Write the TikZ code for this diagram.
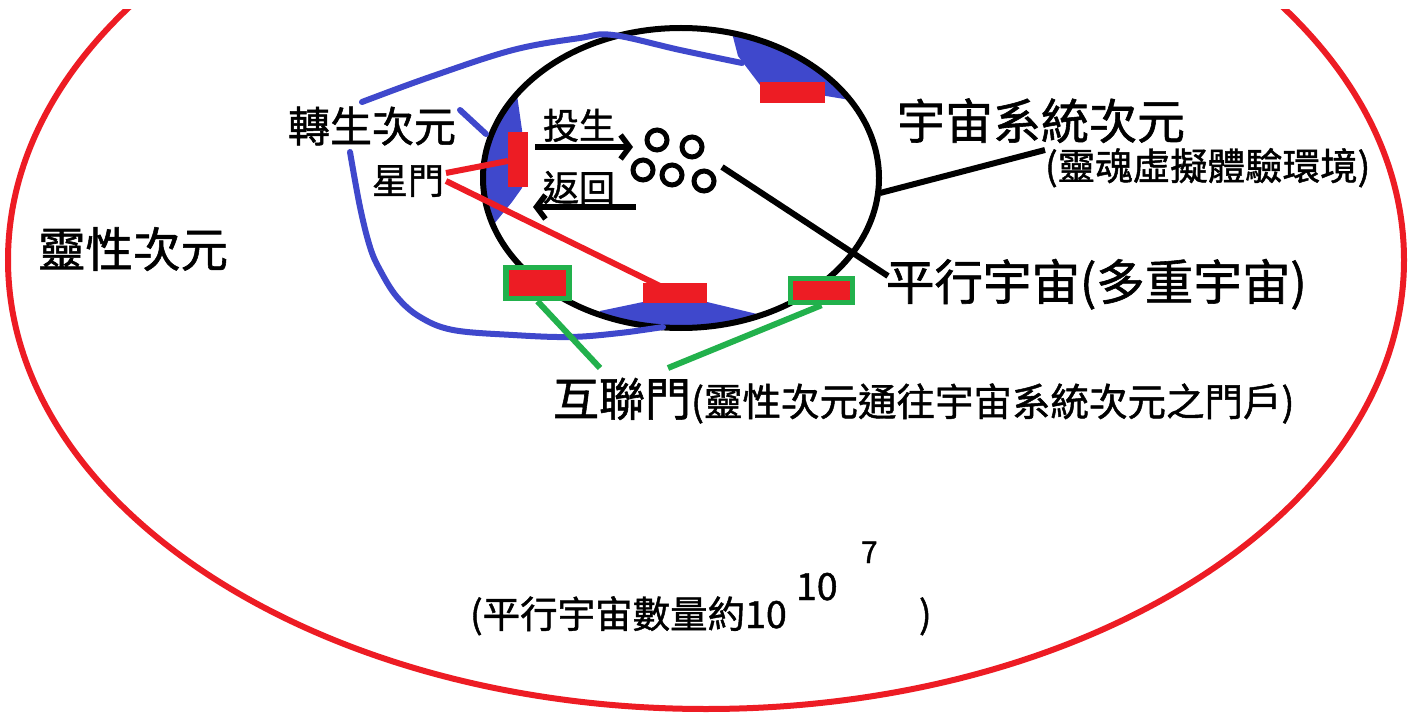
\documentclass[tikz,border=0pt]{standalone}
\usepackage{fontspec}
\setmainfont{Noto Sans CJK TC}[FakeBold=1.2]
\usetikzlibrary{arrows.meta,shapes.geometric}
\definecolor{pred}{HTML}{ED1C24}
\definecolor{pblue}{HTML}{3F48CC}
\definecolor{pgreen}{HTML}{22B14C}
\tikzset{
  lbl/.style={inner sep=0pt, outer sep=0pt, anchor=base west, text=black},
  fs/.style={font=\fontsize{#1}{#1}\selectfont},
  redline/.style={draw=pred, line width=6pt},
  blueline/.style={draw=pblue, line width=6pt, line cap=round},
  blackline/.style={draw=black, line width=6pt},
  greenline/.style={draw=pgreen, line width=6pt},
  gatebox/.style={fill=pred},
  greenbox/.style={draw=pgreen, line width=5.5pt, fill=pred},
  uni/.style={draw=black, line width=5pt, circle, inner sep=0pt, minimum size=20pt},
  arr/.style={draw=black, line width=6pt, -{Straight Barb[length=9pt,width=24pt,line width=5.5pt]}},
}
\begin{document}
\begin{tikzpicture}[x=1pt,y=-1pt]
\useasboundingbox (0,0) rectangle (1411,714);
\fill[white] (0,0) rectangle (1411,714);
% spiritual dimension (red)
\begin{scope}
\clip (0,10) rectangle (1411,714);
\draw[pred, line width=6pt] (706,260) ellipse [x radius=698, y radius=449];
\end{scope}
% blue filled zones inside the universe ellipse
\begin{scope}
\clip (681,178) ellipse [x radius=198, y radius=150];
\fill[pblue] (726,10) -- (738,56) -- (760,85) -- (850,100) -- (900,0) -- cycle;
\fill[pblue] (440,60) -- (517,95) -- (522,130) -- (522,188) -- (512,202) -- (494,224) -- (440,232) -- cycle;
\fill[pblue] (600,311) -- (643,302) -- (707,302) -- (757,314) -- (760,345) -- (600,345) -- cycle;
\end{scope}
% universe system dimension (black ellipse)
\node[draw=black, line width=6pt, ellipse, minimum width=396pt, minimum height=300pt, inner sep=0pt] (univ) at (681,178) {};
% blue curves (reincarnation dimension)
\draw[blueline] plot[smooth, tension=0.6] coordinates {(362,102) (430,77) (513,50) (580,38) (613,35) (680,50) (742,63)};
\draw[blueline] plot[smooth, tension=0.6] coordinates {(350,152) (360,207) (370,247) (380,270) (397,297) (420,317) (453,330) (513,335) (570,337) (620,333) (663,327)};
\coordinate (bl1) at (460,110);
\coordinate (bl2) at (486,134);
\draw[blueline] (bl1) -- (bl2);
% gates
\node[gatebox, minimum width=65pt, minimum height=21pt, inner sep=0pt] (tg) at (792.5,92.5) {};
\node[gatebox, minimum width=20pt, minimum height=55pt, inner sep=0pt] (sg) at (518,160) {};
\node[gatebox, minimum width=64pt, minimum height=20pt, inner sep=0pt] (bg) at (675,293) {};
\node[greenbox, minimum width=63pt, minimum height=31pt, inner sep=0pt] (g1) at (537.5,283) {};
\node[greenbox, minimum width=62pt, minimum height=24pt, inner sep=0pt] (g2) at (821.5,290.5) {};
% small universes
\node[uni] (u1) at (657,140) {};
\node[uni] (u2) at (692,147) {};
\node[uni] (u3) at (643,170) {};
\node[uni] (u4) at (672,175) {};
\node[uni] (u5) at (704,181) {};
% labels
\node[lbl, fs=47.5] (spirit) at (38,267) {靈性次元};
\node[lbl, fs=42] (reinc) at (288,142) {轉生次元};
\node[lbl, fs=36] (star) at (372,194) {星門};
\node[lbl, fs=36] (tou) at (543,139) {投生};
\node[lbl, fs=36] (fan) at (543,201) {返回};
\node[lbl, fs=48] (sys) at (897,139) {宇宙系統次元};
\node[lbl, fs=37.5] (sysnote) at (1045,180) {(靈魂虛擬體驗環境)};
\node[lbl, fs=48.5] (para) at (886,300) {平行宇宙(多重宇宙)};
\node[lbl] (inter) at (553,416) {{\fontsize{46}{46}\selectfont 互聯門}{\fontsize{38.5}{38.5}\selectfont (靈性次元通往宇宙系統次元之門戶)}};
\node[lbl, fs=37.5] (count) at (470,628) {(平行宇宙數量約10};
\node[lbl, fs=37.5] (exp1) at (796,600) {10};
\node[lbl, fs=30] (exp2) at (861,563) {7};
\node[lbl, fs=37.5] (close) at (919,628) {)};
% arrows
\coordinate (a1s) at (535,147);
\coordinate (a1e) at (633,147);
\coordinate (a2s) at (636,207);
\coordinate (a2e) at (533,207);
\draw[arr] (a1s) -- (a1e);
\draw[arr] (a2s) -- (a2e);
% pointer lines
\coordinate (c1) at (880,193);
\coordinate (c2) at (1045,150);
\draw[blackline] (c1) -- (c2);
\coordinate (c3) at (722,167);
\coordinate (c4) at (888,276);
\draw[blackline] (c3) -- (c4);
% star gate lines
\coordinate (s1) at (446,173);
\coordinate (s2) at (446,181);
\draw[redline] (s1) -- (sg.west |- 0,161);
\draw[redline] (s2) -- (660,286);
% interconnect lines
\coordinate (i1) at (600,368);
\coordinate (i2) at (668,368);
\draw[greenline] (g1.south) -- (i1);
\draw[greenline] (g2.south) -- (i2);
\end{tikzpicture}
\end{document}
